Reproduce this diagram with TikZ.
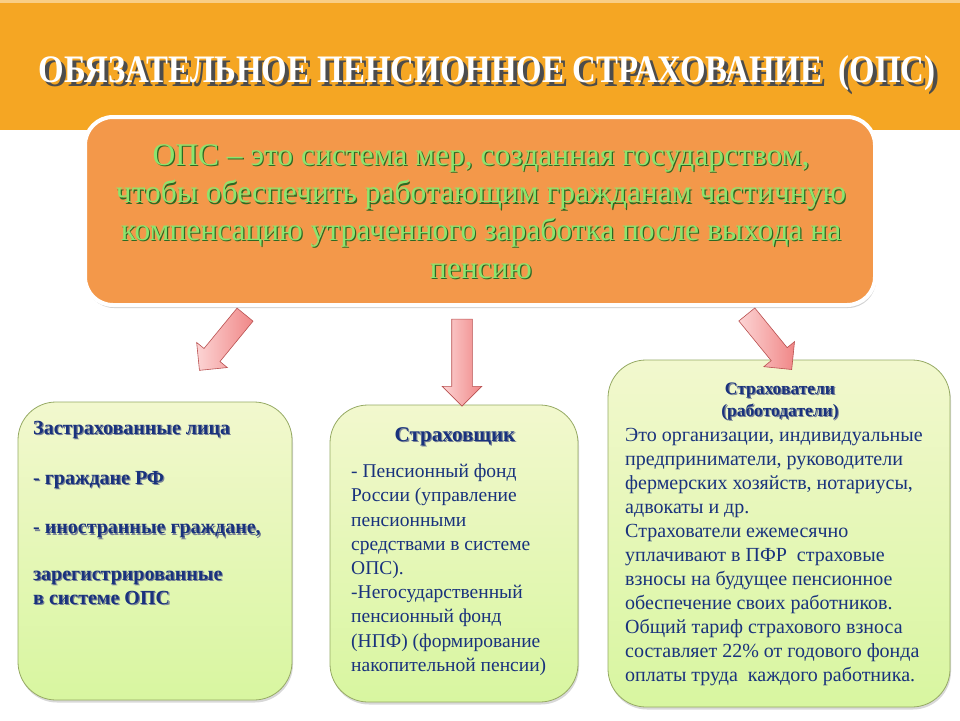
\documentclass[tikz,border=0pt]{standalone}
\usepackage{fontspec}
\usepackage{graphicx}
\setmainfont{Liberation Serif}
\usetikzlibrary{shapes.arrows,shadows,positioning}

\definecolor{bandorange}{RGB}{245,166,35}
\definecolor{boxorange}{RGB}{243,152,74}
\definecolor{opsgreen}{RGB}{140,228,110}
\definecolor{opsgreendark}{RGB}{45,105,35}
\definecolor{navy}{RGB}{25,50,125}
\definecolor{navyshadow}{RGB}{120,130,150}
\definecolor{boxtop}{RGB}{242,248,206}
\definecolor{boxbottom}{RGB}{216,246,160}
\definecolor{boxedge}{RGB}{150,170,100}
\definecolor{arrowlight}{RGB}{252,212,212}
\definecolor{arrowdark}{RGB}{240,135,135}
\definecolor{arrowedge}{RGB}{185,80,80}

% text with a small offset shadow
\newcommand\shtxt[2]{\rlap{\kern1.2pt\raisebox{-1.2pt}{\color{#1}#2}}#2}

\tikzset{
  greenbox/.style={draw=boxedge, line width=0.8pt, rounded corners=38pt,
    top color=boxtop, bottom color=boxbottom,
    drop shadow={opacity=0.3, shadow xshift=1pt, shadow yshift=-2.5pt}},
  pinkarrow/.style={single arrow, draw=arrowedge, line width=0.6pt, inner sep=10pt,
    minimum width=39pt, single arrow head extend=9.5pt,
    left color=arrowlight, right color=arrowdark},
  bodytext/.style={inner sep=0pt, align=left, text=navy,
    font=\fontsize{19.5}{24.2}\selectfont},
  headtext/.style={inner sep=0pt, align=center, text=navy,
    font=\fontsize{21}{22}\selectfont\bfseries}
}

\begin{document}
\begin{tikzpicture}[x=1pt,y=-1pt]
  \useasboundingbox (0,0) rectangle (960,720);
  \fill[white] (0,0) rectangle (960,720);
  \fill[bandorange] (0,0) rectangle (960,130);
  \fill[bandorange!55!white] (0,0) rectangle (960,3);

  % title
  \node[text=white, inner sep=0pt] (title) at (487,75)
    {\resizebox{897pt}{27pt}{\bfseries
     \shtxt{black!70}{ОБЯЗАТЕЛЬНОЕ ПЕНСИОННОЕ СТРАХОВАНИЕ\ \ (ОПС)}}};

  % definition
  \node[draw=white, line width=4pt, fill=boxorange, rounded corners=28pt,
        minimum width=790pt, minimum height=188pt,
        drop shadow={opacity=0.35, shadow xshift=1pt, shadow yshift=-3pt}]
    (ops) at (480,211) {};
  \node[text=opsgreen, align=center, inner sep=0pt,
        font=\fontsize{31.5}{37.7}\selectfont] (opstext) at (481,212)
    {\shtxt{opsgreendark}{ОПС – это система мер, созданная государством,}\\
     \shtxt{opsgreendark}{чтобы обеспечить работающим гражданам частичную}\\
     \shtxt{opsgreendark}{компенсацию утраченного заработка после выхода на}\\
     \shtxt{opsgreendark}{пенсию}};

  % three groups
  \node[greenbox, minimum width=274pt, minimum height=298pt] (insured) at (155,551) {};
  \node[greenbox, minimum width=248pt, minimum height=297pt] (insurer) at (454,553.5) {};
  \node[greenbox, minimum width=342pt, minimum height=347pt] (employer) at (779,533.5) {};

  % arrows
  \node[pinkarrow, minimum height=72pt, rotate=230.7] (arrowl) at (225.5,338.5) {};
  \node[pinkarrow, minimum height=87pt, rotate=270] (arrowm) at (462,357.5) {};
  \node[pinkarrow, minimum height=71pt, rotate=-50.8] (arrowr) at (766,338) {};

  % insured persons
  \node[bodytext, anchor=north west, font=\fontsize{20}{24.2}\selectfont\bfseries]
    (insuredtext) at (33,421)
    {\shtxt{navyshadow}{Застрахованные лица}\\[26pt]
     \shtxt{navyshadow}{- граждане РФ}\\[25pt]
     \shtxt{navyshadow}{- иностранные граждане,}\\[22pt]
     \shtxt{navyshadow}{зарегистрированные}\\
     \shtxt{navyshadow}{в системе ОПС}};

  % insurer
  \node[headtext] (insurerhead) at (455,437) {\shtxt{navyshadow}{Страховщик}};
  \node[bodytext, anchor=north west] (insurertext) at (351,464)
    {- Пенсионный фонд\\
     России (управление\\
     пенсионными\\
     средствами в системе\\
     ОПС).\\
     -Негосударственный\\
     пенсионный фонд\\
     (НПФ) (формирование\\
     накопительной пенсии)};

  % employers
  \node[headtext, font=\fontsize{17.5}{21.5}\selectfont\bfseries] (employerhead) at (780,402)
    {\shtxt{navyshadow}{Страхователи}\\
     \shtxt{navyshadow}{(работодатели)}};
  \node[bodytext, anchor=north west, font=\fontsize{20}{24}\selectfont]
    (employertext) at (625,428)
    {Это организации, индивидуальные\\
     предприниматели, руководители\\
     фермерских хозяйств, нотариусы,\\
     адвокаты и др.\\
     Страхователи ежемесячно\\
     уплачивают в ПФР\ \ страховые\\
     взносы на будущее пенсионное\\
     обеспечение своих работников.\\
     Общий тариф страхового взноса\\
     составляет 22\% от годового фонда\\
     оплаты труда\ \ каждого работника.};
\end{tikzpicture}
\end{document}
